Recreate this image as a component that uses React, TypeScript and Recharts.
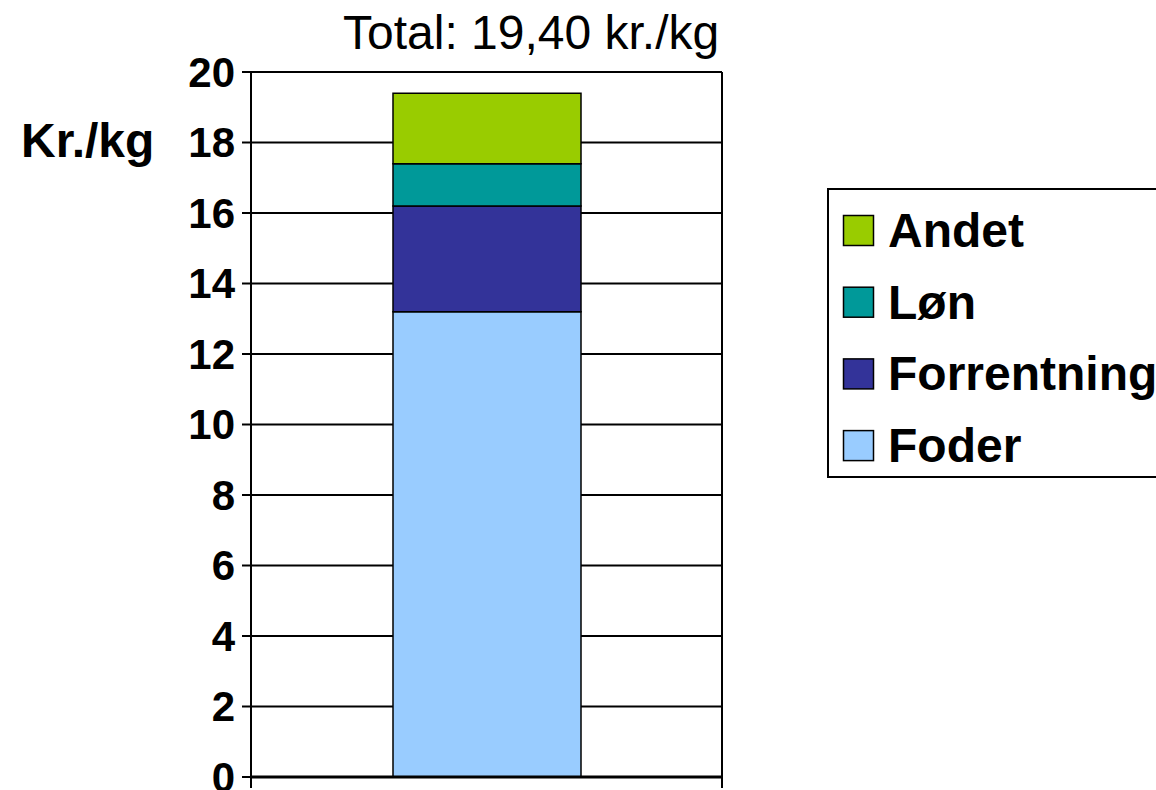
import React from 'react';
import { BarChart, Bar, XAxis, YAxis, CartesianGrid } from 'recharts';

// --- Data ---
const categories = ['Produktion'];
const foder = [13.2];
const forrentning = [3.0];
const lon = [1.2];
const andet = [2.0];
const yTicks = [0, 2, 4, 6, 8, 10, 12, 14, 16, 18, 20];
const titleText = 'Total: 19,40 kr./kg';
const yLabelText = 'Kr./kg';

// stack order bottom -> top
const SERIES = [
  { key: 'foder', name: 'Foder', color: '#99CCFF' },
  { key: 'forrentning', name: 'Forrentning', color: '#333399' },
  { key: 'lon', name: 'Løn', color: '#009999' },
  { key: 'andet', name: 'Andet', color: '#99CC00' },
];

const data = categories.map((name, i) => ({
  name,
  foder: foder[i],
  forrentning: forrentning[i],
  lon: lon[i],
  andet: andet[i],
}));

const FONT = '"Liberation Sans", Arial, Helvetica, sans-serif';
const W = 1156;
const H = 790;

// --- Legend + texts overlay ---
const Overlay: React.FC = () => {
  const legendItems = [...SERIES].reverse();
  return (
    <svg width={W} height={H} style={{ position: 'absolute', left: 0, top: 0, pointerEvents: 'none' }}>
      <text x={343} y={49} fontFamily={FONT} fontSize={48} fill="#000">{titleText}</text>
      <text x={21} y={157} fontFamily={FONT} fontSize={48} fontWeight="bold" fill="#000">{yLabelText}</text>
      <rect x={828} y={189} width={400} height={288} fill="#fff" stroke="#000" strokeWidth={2} />
      {legendItems.map((s, i) => (
        <g key={s.key}>
          <rect x={843.5} y={215.5 + i * 71.7} width={30} height={30} fill={s.color} stroke="#000" strokeWidth={1.5} />
          <text x={888} y={247 + i * 71.7} fontFamily={FONT} fontSize={48} fontWeight="bold" fill="#000">{s.name}</text>
        </g>
      ))}
    </svg>
  );
};

// Excel-style category axis: tick marks between categories, no labels
const BoundaryTick = (props: any) => {
  const { x, y, width, visibleTicksCount } = props;
  const band = width / (visibleTicksCount || 1);
  const left = x - band / 2;
  const right = x + band / 2;
  return (
    <g>
      <line x1={left} x2={left} y1={y} y2={y + 11} stroke="#000" strokeWidth={2} />
      <line x1={right} x2={right} y1={y} y2={y + 11} stroke="#000" strokeWidth={2} />
    </g>
  );
};

// --- Main Component ---
const App: React.FC = () => (
  <div style={{ position: 'absolute', left: 0, top: 0, width: W, height: H, overflow: 'hidden', background: '#fff' }}>
    <BarChart width={W} height={H} data={data} margin={{ top: 72, right: 434, left: 171, bottom: 0 }}>
      <CartesianGrid
        stroke="#000"
        strokeWidth={2}
        horizontal
        vertical
        verticalCoordinatesGenerator={({ offset }: any) => [offset.left, offset.left + offset.width]}
      />
      <XAxis
        dataKey="name"
        height={13}
        tickSize={0}
        tickMargin={0}
        tickLine={false}
        tick={BoundaryTick}
        axisLine={{ stroke: '#000', strokeWidth: 3 }}
        interval={0}
      />
      <YAxis
        domain={[0, 20]}
        ticks={yTicks}
        width={80}
        tickSize={9}
        tickMargin={7}
        axisLine={{ stroke: '#000', strokeWidth: 2 }}
        tickLine={{ stroke: '#000', strokeWidth: 2 }}
        tick={{ fill: '#000', fontSize: 42, fontWeight: 'bold', fontFamily: FONT }}
        interval={0}
      />
      {SERIES.map(s => (
        <Bar
          key={s.key}
          dataKey={s.key}
          name={s.name}
          stackId="a"
          fill={s.color}
          stroke="#000"
          strokeWidth={1.5}
          barSize={188}
          isAnimationActive={false}
        />
      ))}
    </BarChart>
    <Overlay />
  </div>
);

export default App;
